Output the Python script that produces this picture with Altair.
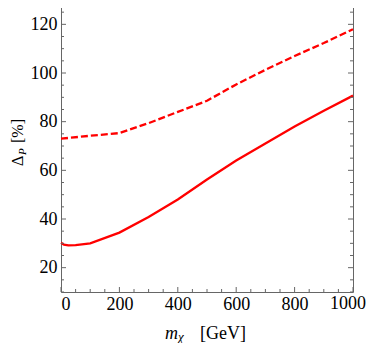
import altair as alt
import pandas as pd

# data
solid_x = [0, 10, 25, 50, 100, 200, 300, 400, 500, 600, 700, 800, 900, 1000]
solid_y = [30.2, 29.5, 29.2, 29.3, 30.0, 34.4, 40.8, 48.0, 56.2, 64.0, 71.0, 78.0, 84.5, 90.7]
dash_x = [0, 100, 200, 300, 400, 500, 600, 700, 800, 900, 1000]
dash_y = [73.0, 74.2, 75.3, 79.4, 84.0, 88.6, 95.3, 101.3, 107.0, 112.3, 118.0]

x_major = [0, 200, 400, 600, 800]
x_last = [1000]
x_minor = [v for v in range(0, 1001, 50) if v % 200 != 0]
y_major = [20, 40, 60, 80, 100, 120]
y_minor = [v for v in range(10, 131, 5) if v % 20 != 0]

W, H = 292, 292
FONT = "Liberation Serif"
RED = "#ff0000"
GREY = "#666666"

xs = alt.Scale(domain=[0, 1000], nice=False, zero=False)
ys = alt.Scale(domain=[10, 130], nice=False, zero=False)

solid_df = pd.DataFrame({"x": solid_x, "y": solid_y})
dash_df = pd.DataFrame({"x": dash_x, "y": dash_y})

solid = alt.Chart(solid_df).mark_line(color=RED, strokeWidth=2.3).encode(
    x=alt.X("x:Q", scale=xs, axis=alt.Axis(values=x_major, format="d", title=None, ticks=False,
                                             domain=False, grid=False, labelFont=FONT,
                                             labelFontSize=18, labelColor="black", labelPadding=3)),
    y=alt.Y("y:Q", scale=ys, axis=alt.Axis(values=y_major, format="d", title=None, ticks=False,
                                             domain=False, grid=False, labelFont=FONT,
                                             labelFontSize=18, labelColor="black", labelPadding=4)),
)
dashed = alt.Chart(dash_df).mark_line(color=RED, strokeWidth=2.3, strokeDash=[7, 3]).encode(
    x=alt.X("x:Q", scale=xs), y=alt.Y("y:Q", scale=ys)
)

# last x tick label, kept inside the page
last_label = alt.Chart(pd.DataFrame({"x": x_last})).mark_text(
    font=FONT, fontSize=18, color="black", align="right", baseline="top", dx=13
).encode(x=alt.X("x:Q", scale=xs), y=alt.value(H + 3), text=alt.Text("x:Q", format="d"))

def xticks(vals, length):
    df = pd.DataFrame({"x": vals})
    bottom = alt.Chart(df).mark_rule(color=GREY, strokeWidth=1).encode(
        x=alt.X("x:Q", scale=xs), y=alt.value(H), y2=alt.value(H - length))
    top = alt.Chart(df).mark_rule(color=GREY, strokeWidth=1).encode(
        x=alt.X("x:Q", scale=xs), y=alt.value(0), y2=alt.value(length))
    return [bottom, top]

def yticks(vals, length):
    df = pd.DataFrame({"y": vals})
    left = alt.Chart(df).mark_rule(color=GREY, strokeWidth=1).encode(
        y=alt.Y("y:Q", scale=ys), x=alt.value(0), x2=alt.value(length))
    right = alt.Chart(df).mark_rule(color=GREY, strokeWidth=1).encode(
        y=alt.Y("y:Q", scale=ys), x=alt.value(W), x2=alt.value(W - length))
    return [left, right]

ticks = (xticks(x_major + x_last, 5) + xticks(x_minor, 3)
         + yticks(y_major, 5) + yticks(y_minor, 3))

def label(text, x, y, size=18, style="normal", angle=0, align="left"):
    return alt.Chart(pd.DataFrame({"t": [text]})).mark_text(
        font=FONT, fontSize=size, fontStyle=style, color="black", align=align,
        baseline="alphabetic", angle=angle
    ).encode(text="t:N", x=alt.value(x), y=alt.value(y))

labels = [
    label("m", 104, 339, style="italic"),
    label("\u03c7", 117, 341, size=13, style="italic"),
    label("[GeV]", 139, 339),
    label("\u0394", -38, 166, size=16, angle=270),
    label("P", -35, 155, size=11, style="italic", angle=270),
    label("[%]", -38, 143, size=16, angle=270),
]

chart = alt.layer(solid, dashed, last_label, *ticks, *labels).properties(
    width=W, height=H,
    autosize=alt.AutoSizeParams(type="none"),
    padding={"left": 53, "top": -8, "right": 13, "bottom": 51},
).configure_view(stroke=GREY, strokeWidth=1)

chart.save("out.html", embed_options={"renderer": "svg", "actions": False})
